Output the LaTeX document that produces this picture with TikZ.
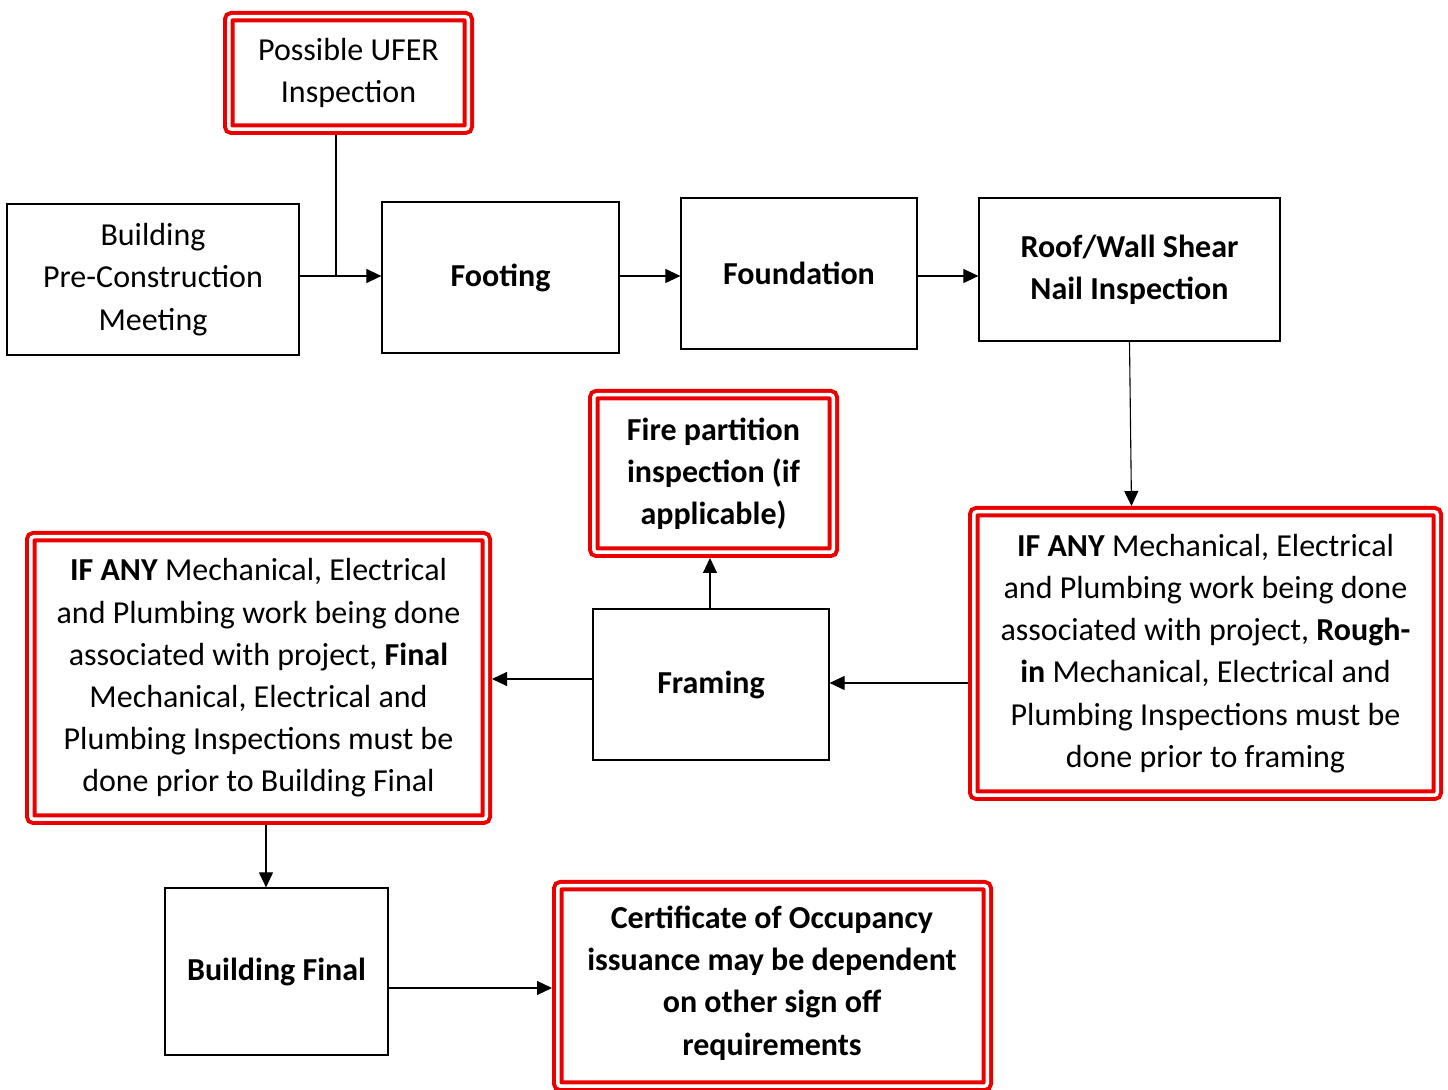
\documentclass[tikz,border=0pt]{standalone}
\usepackage{fontspec}
\setmainfont{Carlito}
\usetikzlibrary{arrows.meta}
\definecolor{boxred}{RGB}{235,0,0}
\tikzset{
  every node/.style={font=\fontsize{16pt}{21.1pt}\selectfont, align=center, inner sep=0pt},
  blackbox/.style={draw=black, line width=0.6pt},
  redbox/.style={draw=boxred, double=white, double distance=1.75pt, line width=2pt, rounded corners=1.5pt, outer sep=2.875pt},
  arr/.style={-{Triangle[length=7.5pt,width=7pt]}, line width=0.55pt},
  ln/.style={line width=0.55pt}
}
\begin{document}
\begin{tikzpicture}[x=0.5pt,y=-0.5pt]
\useasboundingbox (0,0) rectangle (1448,1090);
% black boxes
\node[blackbox, minimum width=146pt, minimum height=75.5pt] (meet) at (153,279.5) {Building\\Pre-Construction\\Meeting};
\node[blackbox, minimum width=118.5pt, minimum height=75.5pt] (foot) at (500.5,277.5) {\bfseries Footing};
\node[blackbox, minimum width=118pt, minimum height=75.5pt] (found) at (799,273.5) {\bfseries Foundation};
\node[blackbox, minimum width=150.5pt, minimum height=71.5pt] (roof) at (1129.5,269.5) {\bfseries Roof/Wall Shear\\\bfseries Nail Inspection};
\node[blackbox, minimum width=118pt, minimum height=75.5pt] (fram) at (711,684.5) {\bfseries Framing};
\node[blackbox, minimum width=111.5pt, minimum height=83.5pt] (final) at (276.5,971.5) {\bfseries Building Final};
% red boxes
\node[redbox, minimum width=119.75pt, minimum height=56.25pt] (ufer) at (348.5,73) {Possible UFER\\Inspection};
\node[redbox, minimum width=119.75pt, minimum height=78.75pt] (fire) at (713.5,473.5) {\bfseries Fire partition\\\bfseries inspection (if\\\bfseries applicable)};
\node[redbox, minimum width=231.75pt, minimum height=141.75pt] (right) at (1205.5,653.5) {\textbf{IF ANY} Mechanical, Electrical\\and Plumbing work being done\\associated with project, \textbf{Rough-}\\\textbf{in} Mechanical, Electrical and\\Plumbing Inspections must be\\done prior to framing};
\node[redbox, minimum width=227.75pt, minimum height=141.25pt] (left) at (258.5,678) {\textbf{IF ANY} Mechanical, Electrical\\and Plumbing work being done\\associated with project, \textbf{Final}\\Mechanical, Electrical and\\Plumbing Inspections must be\\done prior to Building Final};
\node[redbox, minimum width=214.75pt, minimum height=100.25pt] (certbox) at (772.5,986) {};
\node (cert) at (772,983) {\bfseries Certificate of Occupancy\\\bfseries issuance may be dependent\\\bfseries on other sign off\\\bfseries requirements};
% helper coordinates
\coordinate (j) at (336,276);
\coordinate (a) at (0,276);
\coordinate (b) at (0,683);
\coordinate (c) at (0,679);
\coordinate (d) at (266,0);
\coordinate (e) at (0,988);
\coordinate (f) at (710,0);
% connectors
\draw[ln] (ufer.south -| j) -- (j);
\draw[arr] (meet.east |- a) -- (foot.west |- a);
\draw[arr] (foot.east |- a) -- (found.west |- a);
\draw[arr] (found.east |- a) -- (roof.west |- a);
\draw[arr] (roof.south) -- ([xshift=1pt]roof.south |- right.north);
\draw[arr] (right.west |- b) -- (fram.east |- b);
\draw[arr] (fram.north -| f) -- (fire.south -| f);
\draw[arr] (fram.west |- c) -- (left.east |- c);
\draw[arr] (left.south -| d) -- (final.north -| d);
\draw[arr] (final.east |- e) -- (certbox.west |- e);
\end{tikzpicture}
\end{document}
